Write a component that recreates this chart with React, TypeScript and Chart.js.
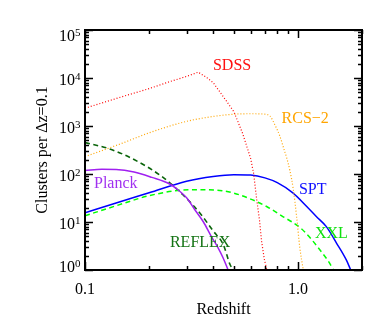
import React, { useEffect, useRef } from "react";
import { Chart, registerables } from "chart.js";

Chart.register(...registerables);

// ---- data (redshift z, clusters per dz=0.1) ----
const sdssZ = [0.1, 0.15, 0.2, 0.25, 0.3, 0.34, 0.37, 0.4, 0.446, 0.5, 0.55, 0.6, 0.62, 0.64, 0.66, 0.675, 0.695, 0.715];
const sdssN = [2350, 4100, 6000, 8400, 10800, 13200, 10500, 8000, 4100, 2000, 700, 210, 100, 30, 11, 4, 1.7, 1];

const rcsZ = [0.1, 0.15, 0.2, 0.3, 0.4, 0.5, 0.6, 0.7, 0.74, 0.78, 0.82, 0.86, 0.885, 0.916, 0.95, 0.986, 1.02, 1.06];
const rcsN = [230, 440, 720, 1250, 1580, 1760, 1800, 1760, 1600, 1050, 640, 330, 220, 120, 50, 13, 3, 1];

const planckZ = [0.1, 0.12, 0.14, 0.17, 0.206, 0.25, 0.265, 0.3, 0.328, 0.36, 0.393, 0.42, 0.445, 0.47];
const planckN = [118, 125, 124, 110, 85, 62, 52, 32, 18, 10, 4.9, 3, 1.8, 1];

const sptZ = [0.1, 0.14, 0.2, 0.3, 0.4, 0.5, 0.6, 0.7, 0.8, 0.95, 1.1, 1.22, 1.36, 1.52, 1.69, 1.77];
const sptN = [15.6, 24.9, 40.6, 70.8, 89, 97, 95, 83, 66, 40, 21, 13, 8, 3.6, 1.6, 1];

const xxlZ = [0.1, 0.14, 0.2, 0.28, 0.35, 0.44, 0.5, 0.6, 0.713, 0.85, 1.03, 1.15, 1.27, 1.38, 1.47];
const xxlN = [13.5, 21.8, 35.3, 45.7, 47, 45, 40, 30, 21, 13, 7.5, 4.5, 2.6, 1.6, 1];

const reflexZ = [0.1, 0.13, 0.17, 0.23, 0.29, 0.35, 0.4, 0.446, 0.48, 0.497];
const reflexN = [450, 335, 200, 88, 36, 14.5, 6.5, 3.4, 1.3, 1];

const seriesNames = ["SDSS", "RCS\u22122", "Planck", "SPT", "XXL", "REFLEX"];
const seriesColors = ["#ff0000", "#ffa500", "#a020f0", "#0000ff", "#00ff00", "#0a640a"];
const labelColors = ["#ff1010", "#ffa500", "#a030f0", "#1010ff", "#10e010", "#137313"];
// label anchors in data space (left edge z, baseline N)
const labelZ = [0.399, 0.838, 0.1102, 1.011, 1.202, 0.2506];
const labelN = [14700, 1155, 51.1, 38.3, 4.75, 3.01];

const xTickValues = [0.1, 1.0];
const xTickLabels = ["0.1", "1.0"];
const yTickExponents = [0, 1, 2, 3, 4, 5];

const xTitle = "Redshift";
const yTitle = "Clusters per \u0394z=0.1";

const FONT = "'Liberation Serif', 'Times New Roman', serif";

function pts(z: number[], n: number[]) {
  return z.map((v, i) => ({ x: v, y: n[i] }));
}

const axesPlugin = {
  id: "idlAxes",
  afterDraw(chart: any) {
    const ctx = chart.ctx as CanvasRenderingContext2D;
    const { left, right, top, bottom } = chart.chartArea;
    const xs = chart.scales.x;
    const ys = chart.scales.y;
    ctx.save();
    ctx.strokeStyle = "#000";
    ctx.lineWidth = 1.5;
    // x ticks
    for (const d of [0.1, 1]) {
      for (let m = 1; m <= 9; m++) {
        const v = m * d;
        if (v < 0.1 - 1e-9 || v > 2 + 1e-9) continue;
        const px = Math.round(xs.getPixelForValue(v)) + 0.5;
        const len = m === 1 ? 8 : 4;
        ctx.beginPath();
        ctx.moveTo(px, bottom);
        ctx.lineTo(px, bottom - len);
        ctx.moveTo(px, top);
        ctx.lineTo(px, top + len);
        ctx.stroke();
      }
    }
    // y ticks
    for (let e = 0; e <= 5; e++) {
      for (let m = 1; m <= 9; m++) {
        if (e === 5 && m > 1) continue;
        const v = m * Math.pow(10, e);
        const py = Math.round(ys.getPixelForValue(v)) + 0.5;
        const len = m === 1 ? 8 : 4;
        ctx.beginPath();
        ctx.moveTo(left, py);
        ctx.lineTo(left + len, py);
        ctx.moveTo(right, py);
        ctx.lineTo(right - len, py);
        ctx.stroke();
      }
    }
    // box
    ctx.lineWidth = 2;
    ctx.strokeRect(left, top, right - left, bottom - top);

    ctx.fillStyle = "#000";
    // x tick labels
    ctx.font = `16px ${FONT}`;
    ctx.textAlign = "center";
    ctx.textBaseline = "alphabetic";
    xTickValues.forEach((v, i) => {
      ctx.fillText(xTickLabels[i], xs.getPixelForValue(v), bottom + 23.5);
    });
    // y tick labels 10^e
    yTickExponents.forEach((e) => {
      const py = ys.getPixelForValue(Math.pow(10, e));
      let base = py + 7;
      if (e === 5) base = py + 11;
      if (e === 0) base = py + 1.5;
      ctx.font = `16px ${FONT}`;
      ctx.textAlign = "right";
      ctx.fillText("10", left - 10, base);
      ctx.font = `11px ${FONT}`;
      ctx.textAlign = "left";
      ctx.fillText(String(e), left - 10, base - 5);
    });
    // axis titles
    ctx.font = `16px ${FONT}`;
    ctx.textAlign = "center";
    ctx.fillText(xTitle, (left + right) / 2, bottom + 44);
    ctx.save();
    ctx.translate(47, (top + bottom) / 2);
    ctx.rotate(-Math.PI / 2);
    ctx.textBaseline = "alphabetic";
    ctx.fillText(yTitle, 0, 0);
    ctx.restore();
    // series labels
    ctx.textAlign = "left";
    ctx.textBaseline = "alphabetic";
    seriesNames.forEach((name, i) => {
      ctx.fillStyle = labelColors[i];
      ctx.fillText(name, xs.getPixelForValue(labelZ[i]), ys.getPixelForValue(labelN[i]));
    });
    ctx.restore();
  },
};

export default function App() {
  const ref = useRef<HTMLCanvasElement | null>(null);
  useEffect(() => {
    if (!ref.current) return;
    const mk = (label: string, z: number[], n: number[], color: string, width: number, dash: number[], smooth: boolean) => ({
      label,
      data: pts(z, n),
      borderColor: color,
      backgroundColor: color,
      borderWidth: width,
      borderDash: dash,
      pointRadius: 0,
      fill: false,
      tension: 0,
      cubicInterpolationMode: smooth ? "monotone" : "default",
      clip: 0,
    });
    const chart = new Chart(ref.current, {
      type: "line",
      data: {
        datasets: [
          mk(seriesNames[0], sdssZ, sdssN, seriesColors[0], 1.2, [1, 2], false),
          mk(seriesNames[1], rcsZ, rcsN, seriesColors[1], 1.2, [1, 2], true),
          mk(seriesNames[2], planckZ, planckN, seriesColors[2], 1.5, [], true),
          mk(seriesNames[3], sptZ, sptN, seriesColors[3], 1.5, [], true),
          mk(seriesNames[4], xxlZ, xxlN, seriesColors[4], 1.5, [5, 3.5], true),
          mk(seriesNames[5], reflexZ, reflexN, seriesColors[5], 1.6, [5, 3.5], true),
        ] as any,
      },
      options: {
        animation: false,
        responsive: false,
        layout: { padding: { left: 85, right: 26, top: 30, bottom: 62 } },
        plugins: { legend: { display: false }, tooltip: { enabled: false } },
        scales: {
          x: { type: "logarithmic", min: 0.1, max: 2, display: false },
          y: { type: "logarithmic", min: 1, max: 100000, display: false },
        },
      },
      plugins: [axesPlugin],
    });
    return () => chart.destroy();
  }, []);
  return (
    <div style={{ position: "absolute", left: 0, top: 0, width: 388, height: 332, background: "#fff" }}>
      <canvas ref={ref} width={388} height={332} style={{ display: "block" }} />
    </div>
  );
}
